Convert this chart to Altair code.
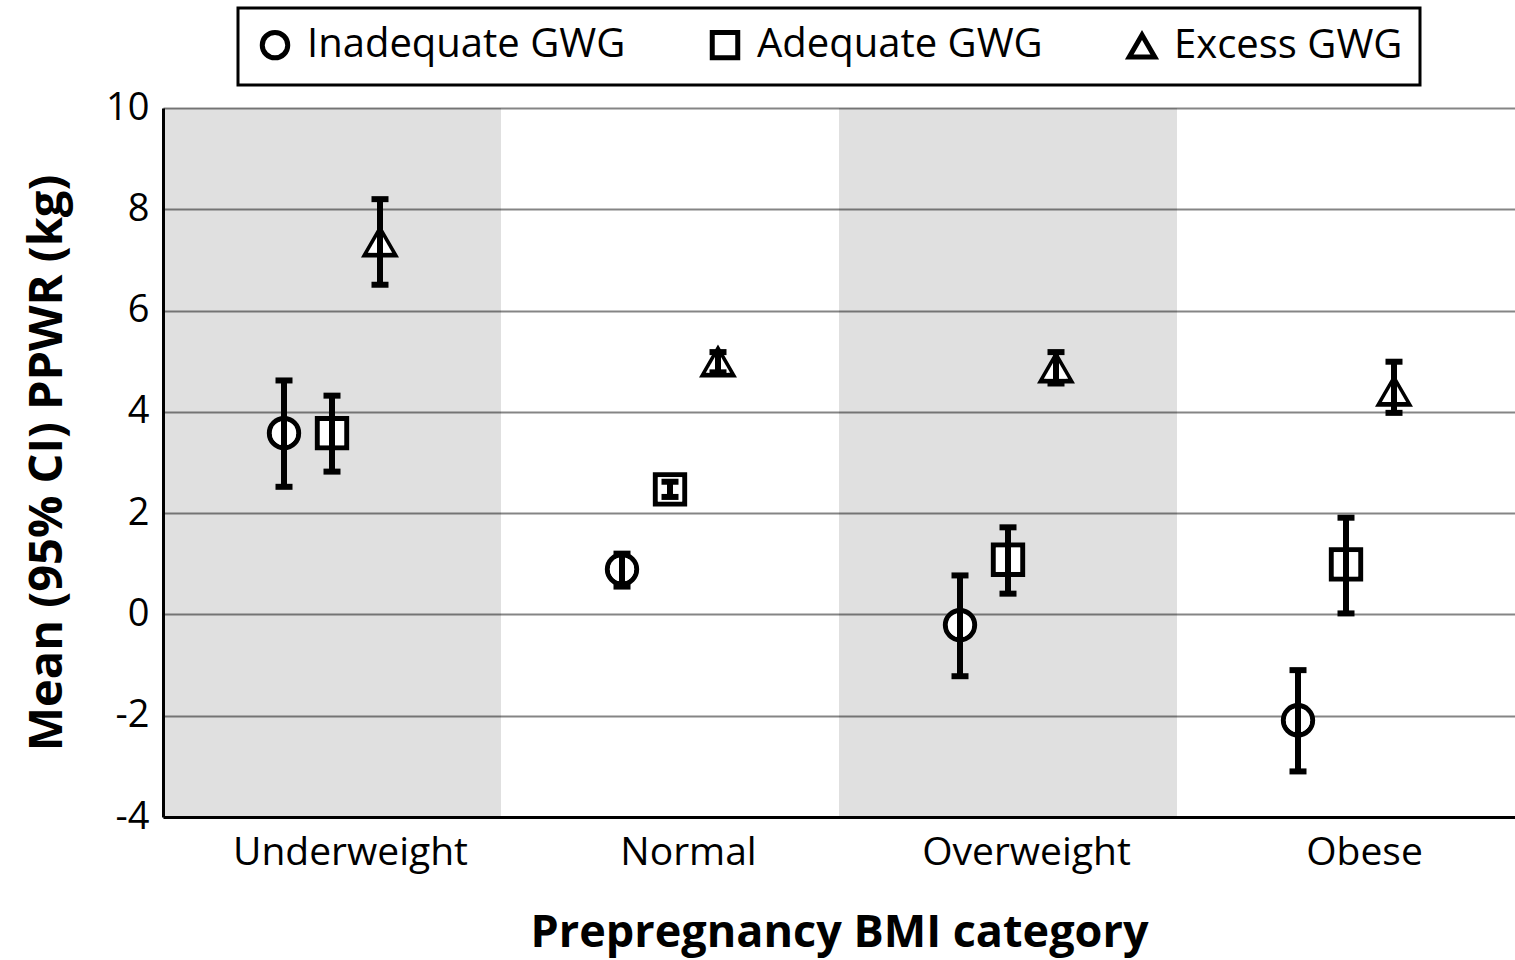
import altair as alt
import pandas as pd

# Prepregnancy BMI categories and gestational weight gain (GWG) groups
categories = ["Underweight", "Normal", "Overweight", "Obese"]
groups = ["Inadequate GWG", "Adequate GWG", "Excess GWG"]
shaded = ["Underweight", "Overweight"]

# Mean postpartum weight retention (kg) with 95% CI, per BMI category
inadequate_mean = [3.58, 0.89, -0.21, -2.09]
inadequate_lo = [2.52, 0.55, -1.22, -3.10]
inadequate_hi = [4.62, 1.20, 0.77, -1.10]

adequate_mean = [3.58, 2.47, 1.08, 0.99]
adequate_lo = [2.82, 2.32, 0.41, 0.02]
adequate_hi = [4.32, 2.62, 1.72, 1.91]

excess_mean = [7.35, 4.98, 4.86, 4.40]
excess_lo = [6.51, 4.78, 4.56, 3.98]
excess_hi = [8.20, 5.18, 5.18, 4.99]

y_ticks = [-4, -2, 0, 2, 4, 6, 8, 10]
y_min, y_max = -4, 10

# spacing of the three GWG groups within one category slot (fraction of a slot)
GROUP_STEP = 0.142

rows = []
for g, m, lo, hi in [
    (groups[0], inadequate_mean, inadequate_lo, inadequate_hi),
    (groups[1], adequate_mean, adequate_lo, adequate_hi),
    (groups[2], excess_mean, excess_lo, excess_hi),
]:
    for c, mv, lv, hv in zip(categories, m, lo, hi):
        rows.append({"category": c, "group": g, "mean": mv, "lo": lv, "hi": hv})
df = pd.DataFrame(rows)
df["xpos"] = [
    categories.index(c) + 0.5 + (groups.index(g) - 1) * GROUP_STEP
    for c, g in zip(df["category"], df["group"])
]

bands = pd.DataFrame({"category": shaded})
bands["x0"] = [categories.index(c) for c in shaded]
bands["x1"] = bands["x0"] + 1

FONT = "Open Sans"

label_expr = "[" + ",".join(f"'{c}'" for c in categories) + "][round(datum.value - 0.5)]"
x_scale = alt.Scale(domain=[0, len(categories)], nice=False, zero=False)
x_axis = alt.Axis(
    title="Prepregnancy BMI category",
    values=[i + 0.5 for i in range(len(categories))],
    labelExpr=label_expr,
    labelAngle=0,
    ticks=False,
    grid=False,
    labelOffset=18,
    labelPadding=16,
    labelLimit=400,
    labelFontSize=39,
    titlePadding=38,
    titleFontSize=45,
    domainColor="black",
    domainWidth=3,
)
y_scale = alt.Scale(domain=[y_min, y_max], nice=False, zero=False)
y_axis = alt.Axis(
    title="Mean (95% CI) PPWR (kg)",
    values=y_ticks,
    labelExpr="datum.value + ''",
    ticks=False,
    grid=True,
    gridColor="#858585",
    gridWidth=2,
    labelPadding=14,
    labelFontSize=38,
    titlePadding=34,
    titleFontSize=47,
    domainColor="black",
    domainWidth=3,
)

shape_scale = alt.Scale(domain=groups, range=["circle", "square", "triangle-up"])
shape_legend = alt.Legend(
    title=None,
    orient="none",
    direction="horizontal",
    legendX=75,
    legendY=-100,
    strokeColor="black",
    padding=17,
    columnPadding=76,
    symbolSize=650,
    symbolStrokeWidth=5,
    labelFontSize=40,
    labelFont=FONT,
    labelColor="black",
    labelOffset=12,
    labelLimit=400,
)

background = alt.Chart(bands).mark_rect(color="black", opacity=0.12).encode(
    x=alt.X("x0:Q", scale=x_scale, axis=x_axis),
    x2="x1:Q",
    y=alt.datum(y_max, scale=y_scale),
    y2=alt.datum(y_min),
)

# black outline of each marker
marker_line = alt.Chart(df).mark_point(filled=False, color="black", strokeWidth=5, size=860, opacity=1).encode(
    x=alt.X("xpos:Q", scale=x_scale),
    y=alt.Y("mean:Q", scale=y_scale, axis=y_axis),
    shape=alt.Shape("group:N", scale=shape_scale, legend=shape_legend),
)

# white interior inside the outline
marker_fill = alt.Chart(df).mark_point(filled=True, color="white", size=590, opacity=1).encode(
    x=alt.X("xpos:Q", scale=x_scale),
    y=alt.Y("mean:Q", scale=y_scale),
    shape=alt.Shape("group:N", scale=shape_scale, legend=shape_legend),
)

errbars = alt.Chart(df).mark_rule(color="black", strokeWidth=6).encode(
    x=alt.X("xpos:Q", scale=x_scale), y=alt.Y("lo:Q", scale=y_scale), y2="hi:Q"
)
cap_lo = alt.Chart(df).mark_tick(color="black", thickness=6, size=17, orient="horizontal", opacity=1).encode(
    x=alt.X("xpos:Q", scale=x_scale), y=alt.Y("lo:Q", scale=y_scale)
)
cap_hi = alt.Chart(df).mark_tick(color="black", thickness=6, size=17, orient="horizontal", opacity=1).encode(
    x=alt.X("xpos:Q", scale=x_scale), y=alt.Y("hi:Q", scale=y_scale)
)

chart = (
    alt.layer(background, marker_line, marker_fill, errbars, cap_lo, cap_hi)
    .properties(
        width=1352,
        height=709,
        autosize=alt.AutoSizeParams(type="none"),
        padding={"left": 163, "top": 108, "right": 0, "bottom": 143},
        background="white",
    )
    .configure_view(stroke=None)
    .configure_legend(strokeWidth=3)
    .configure_axis(
        labelFont=FONT,
        labelColor="black",
        titleFont=FONT,
        titleFontWeight="bold",
        titleColor="black",
    )
)

chart.save("out.html", embed_options={"renderer": "svg", "actions": False})
